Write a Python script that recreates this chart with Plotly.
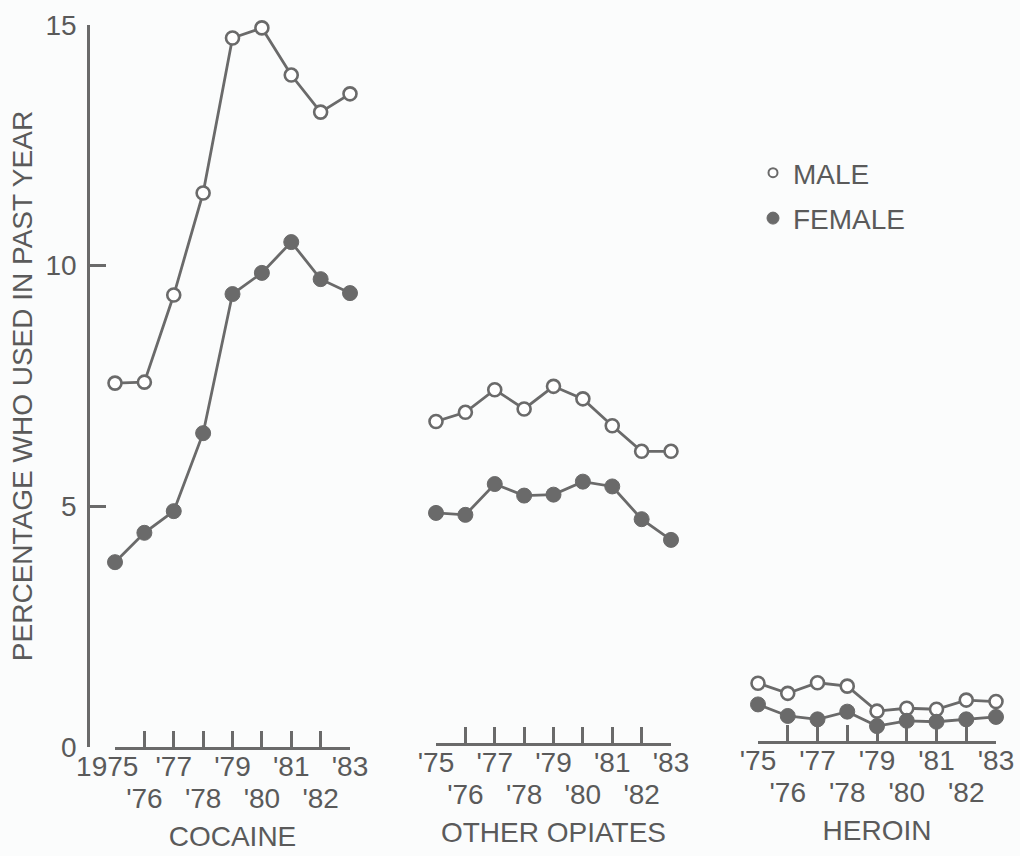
import plotly.graph_objects as go

# ---------------- data ----------------
years = [1975, 1976, 1977, 1978, 1979, 1980, 1981, 1982, 1983]
even_years = [1976, 1978, 1980, 1982]
odd_row_cocaine = ["1975\u00a0\u00a0", "", "'77", "", "'79", "", "'81", "", "'83"]
odd_row_short = ["'75", "", "'77", "", "'79", "", "'81", "", "'83"]
even_labels = ["'76", "'78", "'80", "'82"]

cocaine_male = [7.56, 7.58, 9.39, 11.51, 14.73, 14.94, 13.96, 13.19, 13.57]
cocaine_female = [3.84, 4.45, 4.90, 6.52, 9.41, 9.85, 10.49, 9.72, 9.43]
opiates_male = [6.68, 6.87, 7.34, 6.94, 7.41, 7.15, 6.59, 6.06, 6.06]
opiates_female = [4.78, 4.74, 5.38, 5.14, 5.16, 5.43, 5.33, 4.65, 4.22]
heroin_male = [1.20, 0.99, 1.21, 1.14, 0.62, 0.68, 0.66, 0.85, 0.82]
heroin_female = [0.76, 0.52, 0.45, 0.61, 0.31, 0.42, 0.40, 0.45, 0.50]

panel_titles = ["COCAINE", "OTHER OPIATES", "HEROIN"]
y_ticks = [0, 5, 10, 15]
y_title = "PERCENTAGE WHO USED IN PAST YEAR"

# ---------------- style ----------------
W, H = 1020, 856
GRAY = "#6a6a6a"
TEXT = "#5a5a5a"
BG = "#fbfcfc"
FONT = "Liberation Sans"
FS = 28

fig = go.Figure()

panels = [
    ("x", "y", "x4", cocaine_male, cocaine_female),
    ("x2", "y2", "x5", opiates_male, opiates_female),
    ("x3", "y3", "x6", heroin_male, heroin_female),
]
for xa, ya, xe, male, female in panels:
    fig.add_trace(go.Scatter(
        x=years, y=male, xaxis=xa, yaxis=ya, mode="lines+markers",
        line=dict(color=GRAY, width=2.8),
        marker=dict(symbol="circle", size=13, color="#ffffff",
                    line=dict(color=GRAY, width=2.6)),
        showlegend=False, cliponaxis=False, hoverinfo="skip"))
    fig.add_trace(go.Scatter(
        x=years, y=female, xaxis=xa, yaxis=ya, mode="lines+markers",
        line=dict(color=GRAY, width=2.8),
        marker=dict(symbol="circle", size=15, color=GRAY,
                    line=dict(color=GRAY, width=1)),
        showlegend=False, cliponaxis=False, hoverinfo="skip"))
    # empty trace so the second-row label axis is rendered
    fig.add_trace(go.Scatter(x=[None], y=[None], xaxis=xe, yaxis=ya, mode="markers",
                             showlegend=False, hoverinfo="skip"))

# legend entries
fig.add_trace(go.Scatter(x=[None], y=[None], mode="markers", name="MALE",
                         marker=dict(symbol="circle", size=9, color="#ffffff",
                                     line=dict(color=GRAY, width=2)),
                         legendgroup="m"))
fig.add_trace(go.Scatter(x=[None], y=[None], mode="markers", name="FEMALE",
                         marker=dict(symbol="circle", size=12, color=GRAY,
                                     line=dict(color=GRAY, width=1)),
                         legendgroup="f"))


def ydom(base_px, top_px):
    return [1 - base_px / H, 1 - top_px / H]


tickfont = dict(family=FONT, size=FS, color=TEXT)

main_x = dict(
    range=[1975, 1983], showline=True, linecolor=GRAY, linewidth=2.5,
    ticks="inside", ticklen=16, tickwidth=2.5, tickcolor=GRAY,
    tickvals=years, tickangle=0, showgrid=False, zeroline=False,
    automargin=False, tickfont=tickfont, fixedrange=True,
    ticklabelstandoff=-7,
)
even_x = dict(
    range=[1975, 1983], showline=False, ticks="", tickangle=0,
    tickvals=even_years, ticktext=even_labels,
    showgrid=False, zeroline=False, automargin=False, tickfont=tickfont,
    fixedrange=True, ticklabelstandoff=32,
    title_font=dict(family=FONT, size=FS, color=TEXT),
)

fig.update_layout(
    width=W, height=H, autosize=False,
    margin=dict(l=0, r=0, t=0, b=0, autoexpand=False),
    paper_bgcolor=BG, plot_bgcolor=BG,
    font=dict(family=FONT, size=FS, color=TEXT),
    xaxis=dict(domain=[115 / W, 350 / W], anchor="y", ticktext=odd_row_cocaine, **main_x),
    xaxis2=dict(domain=[436 / W, 671 / W], anchor="y2", ticktext=odd_row_short, **main_x),
    xaxis3=dict(domain=[758 / W, 996 / W], anchor="y3", ticktext=odd_row_short, **main_x),
    xaxis4=dict(overlaying="x", anchor="y", title=dict(text=panel_titles[0], standoff=13), **even_x),
    xaxis5=dict(overlaying="x2", anchor="y2", title=dict(text=panel_titles[1], standoff=13), **even_x),
    xaxis6=dict(overlaying="x3", anchor="y3", title=dict(text=panel_titles[2], standoff=13), **even_x),
    yaxis=dict(domain=ydom(747, 25), range=[0, 15], anchor="free", position=88 / W,
               showline=True, linecolor=GRAY, linewidth=2.5,
               ticks="inside", ticklen=16, tickwidth=2.5, tickcolor=GRAY,
               tickvals=y_ticks, ticktext=[str(v) for v in y_ticks],
               showgrid=False, zeroline=False, fixedrange=True, automargin=False,
               tickfont=tickfont, ticklabelstandoff=5,
               title=dict(text=y_title, standoff=3,
                          font=dict(family=FONT, size=FS, color=TEXT))),
    yaxis2=dict(domain=ydom(743, 21), range=[0, 15], visible=False, fixedrange=True),
    yaxis3=dict(domain=ydom(741, 19), range=[0, 15], visible=False, fixedrange=True),
    legend=dict(x=753 / W, y=1 - 148 / H, xanchor="left", yanchor="top",
                bgcolor="rgba(0,0,0,0)", font=dict(family=FONT, size=FS, color=TEXT),
                tracegroupgap=6, traceorder="grouped"),
)

fig.write_html("out.html", config={"displayModeBar": False})
